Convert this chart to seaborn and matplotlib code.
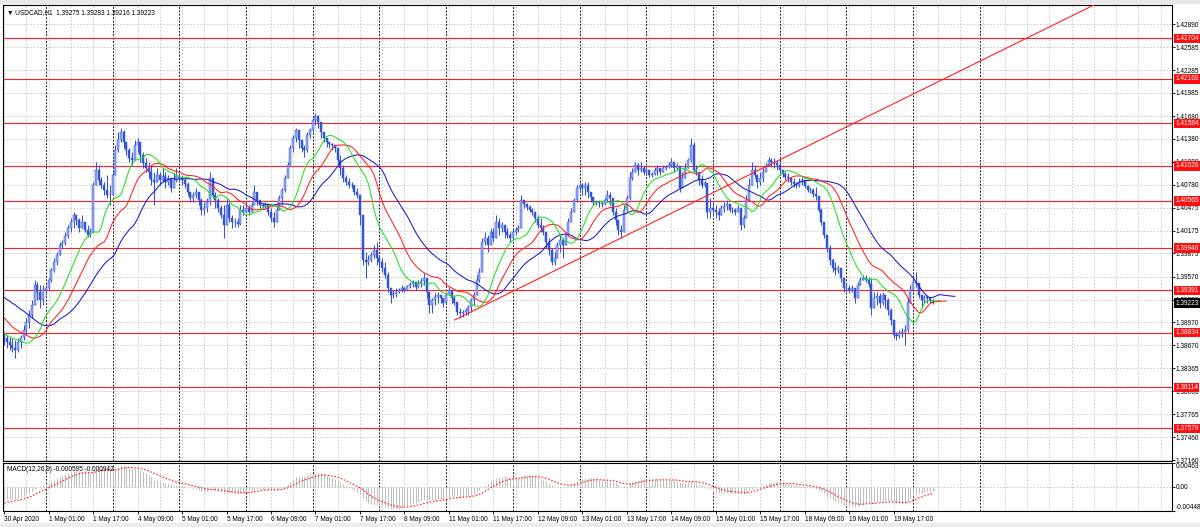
"""
USDCAD H1 chart (MetaTrader style): candles, Alligator, support/resistance levels, MACD.
"""

import matplotlib

matplotlib.use("Agg")

import matplotlib.pyplot as plt
import numpy as np
import pandas as pd
import seaborn as sns
from matplotlib.patches import Rectangle
from matplotlib.transforms import blended_transform_factory


# ---------------------------------------------------------------- data
# hourly bars, 30 Apr 2020 09:00 -> 20 May 2020 07:00 (weekends closed)
times = pd.date_range("2020-04-30 09:00", "2020-05-20 07:00", freq="h")
times = times[times.dayofweek < 5]
# the time scale continues (empty) to the right of the last bar
future_times = pd.date_range("2020-05-20 08:00", "2020-05-21 00:00", freq="h")

first_open = 1.3883

close = [
    1.3876, 1.3871, 1.3867, 1.3863, 1.3861, 1.3871, 1.3878, 1.3887, 1.3897, 1.3907, 1.3920, 1.3946,
    1.3937, 1.3926, 1.3939, 1.3942, 1.3953, 1.3966, 1.3976, 1.3985, 1.3999, 1.4001, 1.4010, 1.4021,
    1.4029, 1.4038, 1.4031, 1.4021, 1.4029, 1.4018, 1.4012, 1.4016, 1.4077, 1.4097, 1.4084, 1.4077,
    1.4071, 1.4064, 1.4064, 1.4091, 1.4123, 1.4137, 1.4147, 1.4134, 1.4123, 1.4113, 1.4110, 1.4130,
    1.4134, 1.4117, 1.4106, 1.4100, 1.4094, 1.4084, 1.4081, 1.4091, 1.4084, 1.4089, 1.4081, 1.4087,
    1.4073, 1.4084, 1.4089, 1.4087, 1.4084, 1.4079, 1.4068, 1.4060, 1.4064, 1.4068, 1.4058, 1.4045,
    1.4047, 1.4055, 1.4087, 1.4064, 1.4058, 1.4047, 1.4038, 1.4025, 1.4051, 1.4034, 1.4029, 1.4029,
    1.4026, 1.4045, 1.4042, 1.4047, 1.4042, 1.4051, 1.4068, 1.4058, 1.4051, 1.4050, 1.4052, 1.4042,
    1.4034, 1.4029, 1.4045, 1.4060, 1.4071, 1.4087, 1.4104, 1.4126, 1.4139, 1.4150, 1.4137, 1.4126,
    1.4123, 1.4143, 1.4150, 1.4163, 1.4168, 1.4160, 1.4147, 1.4139, 1.4134, 1.4131, 1.4130, 1.4126,
    1.4110, 1.4100, 1.4087, 1.4081, 1.4077, 1.4077, 1.4068, 1.4064, 1.4038, 1.3979, 1.3976, 1.3979,
    1.3985, 1.3992, 1.3981, 1.3976, 1.3968, 1.3959, 1.3942, 1.3933, 1.3934, 1.3937, 1.3939, 1.3942,
    1.3939, 1.3945, 1.3947, 1.3950, 1.3943, 1.3949, 1.3951, 1.3955, 1.3937, 1.3920, 1.3926, 1.3930,
    1.3933, 1.3929, 1.3923, 1.3933, 1.3939, 1.3929, 1.3923, 1.3910, 1.3909, 1.3910, 1.3913, 1.3917,
    1.3926, 1.3933, 1.3953, 1.3963, 1.4002, 1.4008, 1.3999, 1.4016, 1.4008, 1.4029, 1.4021, 1.4025,
    1.4016, 1.4012, 1.4008, 1.4016, 1.4018, 1.4021, 1.4058, 1.4052, 1.4048, 1.4045, 1.4042, 1.4034,
    1.4025, 1.4021, 1.4016, 1.4002, 1.3992, 1.3976, 1.3981, 1.3999, 1.4005, 1.3999, 1.4012, 1.4029,
    1.4042, 1.4058, 1.4073, 1.4077, 1.4073, 1.4077, 1.4068, 1.4062, 1.4055, 1.4055, 1.4054, 1.4052,
    1.4058, 1.4064, 1.4060, 1.4042, 1.4031, 1.4018, 1.4016, 1.4045, 1.4060, 1.4087, 1.4094, 1.4104,
    1.4097, 1.4100, 1.4094, 1.4097, 1.4091, 1.4092, 1.4097, 1.4100, 1.4094, 1.4100, 1.4101, 1.4104,
    1.4108, 1.4100, 1.4102, 1.4073, 1.4087, 1.4100, 1.4110, 1.4130, 1.4097, 1.4094, 1.4084, 1.4077,
    1.4080, 1.4042, 1.4047, 1.4045, 1.4042, 1.4038, 1.4047, 1.4050, 1.4052, 1.4045, 1.4045, 1.4042,
    1.4047, 1.4025, 1.4034, 1.4058, 1.4077, 1.4097, 1.4091, 1.4081, 1.4087, 1.4094, 1.4102, 1.4110,
    1.4108, 1.4106, 1.4104, 1.4097, 1.4092, 1.4088, 1.4087, 1.4081, 1.4079, 1.4077, 1.4081, 1.4084,
    1.4076, 1.4071, 1.4071, 1.4066, 1.4063, 1.4045, 1.4029, 1.4012, 1.3995, 1.3979, 1.3968, 1.3966,
    1.3968, 1.3955, 1.3942, 1.3942, 1.3939, 1.3942, 1.3929, 1.3946, 1.3953, 1.3955, 1.3953, 1.3947,
    1.3916, 1.3929, 1.3931, 1.3923, 1.3933, 1.3926, 1.3913, 1.3900, 1.3880, 1.3879, 1.3883, 1.3884,
    1.3887, 1.3923, 1.3939, 1.3950, 1.3949, 1.3933, 1.3926, 1.3930, 1.3929, 1.3926, 1.39223,
]

high = [
    1.3884, 1.3880, 1.3878, 1.3876, 1.3874, 1.3876, 1.3880, 1.3894, 1.3903, 1.3913, 1.3926, 1.3953,
    1.3950, 1.3946, 1.3946, 1.3946, 1.3955, 1.3968, 1.3981, 1.3989, 1.4002, 1.4005, 1.4016, 1.4025,
    1.4034, 1.4042, 1.4038, 1.4034, 1.4038, 1.4029, 1.4025, 1.4021, 1.4081, 1.4108, 1.4104, 1.4088,
    1.4081, 1.4091, 1.4077, 1.4094, 1.4130, 1.4147, 1.4152, 1.4150, 1.4130, 1.4126, 1.4121, 1.4137,
    1.4139, 1.4126, 1.4121, 1.4113, 1.4108, 1.4104, 1.4094, 1.4100, 1.4094, 1.4100, 1.4094, 1.4091,
    1.4087, 1.4094, 1.4100, 1.4091, 1.4091, 1.4087, 1.4081, 1.4068, 1.4068, 1.4073, 1.4068, 1.4060,
    1.4055, 1.4060, 1.4094, 1.4087, 1.4068, 1.4060, 1.4051, 1.4051, 1.4060, 1.4055, 1.4038, 1.4034,
    1.4034, 1.4051, 1.4051, 1.4055, 1.4051, 1.4055, 1.4077, 1.4068, 1.4055, 1.4054, 1.4055, 1.4051,
    1.4047, 1.4042, 1.4051, 1.4064, 1.4073, 1.4091, 1.4108, 1.4130, 1.4143, 1.4152, 1.4143, 1.4134,
    1.4130, 1.4147, 1.4152, 1.4165, 1.4172, 1.4169, 1.4160, 1.4147, 1.4139, 1.4134, 1.4133, 1.4130,
    1.4121, 1.4117, 1.4104, 1.4091, 1.4087, 1.4081, 1.4077, 1.4073, 1.4060, 1.4029, 1.3989, 1.3985,
    1.3989, 1.3999, 1.4002, 1.3985, 1.3981, 1.3976, 1.3963, 1.3942, 1.3939, 1.3942, 1.3942, 1.3946,
    1.3943, 1.3946, 1.3950, 1.3953, 1.3950, 1.3953, 1.3955, 1.3962, 1.3950, 1.3937, 1.3929, 1.3935,
    1.3937, 1.3933, 1.3929, 1.3937, 1.3943, 1.3939, 1.3933, 1.3923, 1.3916, 1.3913, 1.3916, 1.3920,
    1.3929, 1.3937, 1.3959, 1.3968, 1.4008, 1.4016, 1.4012, 1.4021, 1.4021, 1.4038, 1.4034, 1.4029,
    1.4025, 1.4021, 1.4016, 1.4021, 1.4022, 1.4025, 1.4064, 1.4058, 1.4054, 1.4051, 1.4047, 1.4042,
    1.4038, 1.4034, 1.4025, 1.4012, 1.4008, 1.3995, 1.3989, 1.4002, 1.4012, 1.4008, 1.4016, 1.4034,
    1.4047, 1.4060, 1.4077, 1.4081, 1.4080, 1.4081, 1.4081, 1.4068, 1.4060, 1.4058, 1.4058, 1.4055,
    1.4060, 1.4071, 1.4068, 1.4051, 1.4047, 1.4029, 1.4025, 1.4051, 1.4064, 1.4094, 1.4100, 1.4108,
    1.4106, 1.4108, 1.4104, 1.4101, 1.4097, 1.4094, 1.4101, 1.4104, 1.4100, 1.4104, 1.4104, 1.4108,
    1.4113, 1.4106, 1.4106, 1.4101, 1.4094, 1.4106, 1.4113, 1.4139, 1.4134, 1.4104, 1.4094, 1.4091,
    1.4084, 1.4077, 1.4060, 1.4055, 1.4051, 1.4047, 1.4051, 1.4055, 1.4058, 1.4051, 1.4048, 1.4047,
    1.4051, 1.4047, 1.4038, 1.4064, 1.4087, 1.4108, 1.4104, 1.4091, 1.4094, 1.4100, 1.4106, 1.4114,
    1.4113, 1.4113, 1.4110, 1.4108, 1.4097, 1.4094, 1.4093, 1.4088, 1.4087, 1.4081, 1.4087, 1.4088,
    1.4084, 1.4077, 1.4075, 1.4073, 1.4075, 1.4060, 1.4047, 1.4029, 1.4012, 1.3999, 1.3981, 1.3976,
    1.3972, 1.3968, 1.3955, 1.3949, 1.3946, 1.3946, 1.3942, 1.3950, 1.3956, 1.3959, 1.3959, 1.3956,
    1.3955, 1.3937, 1.3937, 1.3935, 1.3937, 1.3933, 1.3929, 1.3916, 1.3897, 1.3884, 1.3887, 1.3890,
    1.3894, 1.3929, 1.3946, 1.3959, 1.3963, 1.3942, 1.3933, 1.3933, 1.3933, 1.3930, 1.39283,
]

low = [
    1.3867, 1.3863, 1.3861, 1.3858, 1.3850, 1.3858, 1.3863, 1.3874, 1.3880, 1.3890, 1.3903, 1.3920,
    1.3926, 1.3916, 1.3920, 1.3933, 1.3939, 1.3950, 1.3963, 1.3972, 1.3985, 1.3995, 1.3999, 1.4008,
    1.4016, 1.4021, 1.4025, 1.4016, 1.4021, 1.4016, 1.4009, 1.4009, 1.4016, 1.4077, 1.4077, 1.4073,
    1.4064, 1.4060, 1.4051, 1.4077, 1.4094, 1.4121, 1.4134, 1.4126, 1.4117, 1.4108, 1.4104, 1.4117,
    1.4121, 1.4108, 1.4100, 1.4094, 1.4087, 1.4077, 1.4051, 1.4081, 1.4077, 1.4081, 1.4073, 1.4077,
    1.4068, 1.4077, 1.4081, 1.4081, 1.4077, 1.4073, 1.4064, 1.4055, 1.4055, 1.4060, 1.4051, 1.4038,
    1.4038, 1.4042, 1.4051, 1.4060, 1.4047, 1.4042, 1.4034, 1.4008, 1.4038, 1.4029, 1.4021, 1.4022,
    1.4022, 1.4025, 1.4038, 1.4042, 1.4038, 1.4042, 1.4051, 1.4051, 1.4047, 1.4047, 1.4047, 1.4038,
    1.4029, 1.4022, 1.4034, 1.4047, 1.4051, 1.4068, 1.4087, 1.4104, 1.4121, 1.4134, 1.4126, 1.4121,
    1.4114, 1.4121, 1.4139, 1.4147, 1.4156, 1.4152, 1.4139, 1.4134, 1.4127, 1.4126, 1.4123, 1.4121,
    1.4104, 1.4091, 1.4081, 1.4077, 1.4073, 1.4073, 1.4064, 1.4060, 1.4025, 1.3972, 1.3955, 1.3972,
    1.3976, 1.3981, 1.3972, 1.3968, 1.3963, 1.3955, 1.3937, 1.3923, 1.3929, 1.3930, 1.3935, 1.3937,
    1.3937, 1.3939, 1.3942, 1.3943, 1.3939, 1.3942, 1.3943, 1.3946, 1.3929, 1.3909, 1.3909, 1.3920,
    1.3923, 1.3922, 1.3917, 1.3923, 1.3933, 1.3923, 1.3920, 1.3907, 1.3903, 1.3904, 1.3907, 1.3907,
    1.3910, 1.3920, 1.3937, 1.3950, 1.3963, 1.3999, 1.3989, 1.3999, 1.4002, 1.4016, 1.4012, 1.4016,
    1.4008, 1.4008, 1.4002, 1.4009, 1.4012, 1.4016, 1.4038, 1.4047, 1.4045, 1.4042, 1.4038, 1.4029,
    1.4021, 1.4016, 1.4012, 1.3995, 1.3985, 1.3972, 1.3972, 1.3985, 1.3989, 1.3981, 1.3999, 1.4016,
    1.4029, 1.4047, 1.4055, 1.4068, 1.4064, 1.4064, 1.4060, 1.4055, 1.4051, 1.4051, 1.4048, 1.4048,
    1.4051, 1.4055, 1.4051, 1.4038, 1.4025, 1.4012, 1.4008, 1.4025, 1.4042, 1.4058, 1.4084, 1.4094,
    1.4091, 1.4094, 1.4091, 1.4093, 1.4088, 1.4088, 1.4091, 1.4091, 1.4091, 1.4094, 1.4097, 1.4100,
    1.4101, 1.4094, 1.4097, 1.4068, 1.4077, 1.4087, 1.4101, 1.4108, 1.4094, 1.4091, 1.4077, 1.4073,
    1.4075, 1.4034, 1.4034, 1.4038, 1.4034, 1.4031, 1.4042, 1.4042, 1.4045, 1.4042, 1.4041, 1.4038,
    1.4042, 1.4018, 1.4021, 1.4034, 1.4058, 1.4077, 1.4087, 1.4073, 1.4077, 1.4081, 1.4094, 1.4102,
    1.4101, 1.4100, 1.4097, 1.4093, 1.4088, 1.4084, 1.4081, 1.4077, 1.4075, 1.4073, 1.4075, 1.4077,
    1.4073, 1.4068, 1.4067, 1.4062, 1.4058, 1.4042, 1.4025, 1.4008, 1.3989, 1.3972, 1.3963, 1.3959,
    1.3962, 1.3950, 1.3937, 1.3937, 1.3935, 1.3937, 1.3923, 1.3929, 1.3946, 1.3953, 1.3950, 1.3943,
    1.3907, 1.3916, 1.3920, 1.3916, 1.3920, 1.3916, 1.3907, 1.3894, 1.3876, 1.3874, 1.3876, 1.3878,
    1.3867, 1.3884, 1.3923, 1.3937, 1.3943, 1.3929, 1.3916, 1.3922, 1.3923, 1.3922, 1.39216,
]

# Alligator lines as they show at the left edge (values before the first bar)
jaw_lead = [1.3930, 1.3927, 1.3925, 1.3922, 1.3920, 1.3917, 1.3914, 1.3912]
teeth_lead = [1.3903, 1.3899, 1.3895, 1.3891, 1.3888]
lips_lead = [1.3883, 1.3880, 1.3878]
jaw_seed, teeth_seed, lips_seed = 1.3909, 1.3886, 1.3876

# MACD state at the first bar
ema12_seed, ema26_seed, signal_seed = 1.3890, 1.3912, -0.0030

levels = [1.42704, 1.42169, 1.41584, 1.41026, 1.40565,
          1.39946, 1.39391, 1.38834, 1.38114, 1.37579]
current_price = 1.39223

# trend line anchors (bar index, price)
trend_bars = [162, 222]
trend_prices = [1.3900, 1.4008]

price_ticks = [1.42890, 1.42585, 1.42285, 1.41985, 1.41680, 1.41380, 1.41080,
               1.40780, 1.40475, 1.40175, 1.39875, 1.39570, 1.39270, 1.38970,
               1.38670, 1.38365, 1.38065, 1.37765, 1.37460, 1.37160]
macd_ticks = [-0.00448, 0.0, 0.00463]
macd_tick_labels = ["-0.00448", "0.00", "0.00463"]

title_text = "\u25bc USDCAD,H1  1.39275 1.39283 1.39216 1.39223"
macd_text = "MACD(12,26,9) -0.000595 -0.000942"


def smma(values, period, seed):
    """Smoothed moving average started from a known value."""
    out = [seed]
    for v in values[1:]:
        out.append((out[-1] * (period - 1) + v) / period)
    return np.array(out)


def ema(values, period, seed):
    """Exponential moving average started from a known value."""
    k = 2 / (period + 1)
    out = [seed]
    for v in values[1:]:
        out.append(out[-1] + k * (v - out[-1]))
    return np.array(out)


def main() -> None:
    n = len(times)
    for name, arr in (("close", close), ("high", high), ("low", low)):
        if len(arr) != n:
            raise ValueError(f"{name}: {len(arr)} values for {n} bars")

    c = np.array(close)
    o = np.r_[first_open, c[:-1]]
    h = np.maximum.reduce([np.array(high), o, c])
    lo = np.minimum.reduce([np.array(low), o, c])
    x = np.arange(n)

    median = (h + lo) / 2
    jaw = np.r_[jaw_lead, smma(median, 13, jaw_seed)]
    teeth = np.r_[teeth_lead, smma(median, 8, teeth_seed)]
    lips = np.r_[lips_lead, smma(median, 5, lips_seed)]

    macd_main = ema(c, 12, ema12_seed) - ema(c, 26, ema26_seed)
    macd_signal = ema(macd_main, 9, signal_seed)

    all_times = times.append(future_times)
    day_starts = np.flatnonzero(all_times.hour == 0)
    label_bars = np.arange(0, n, 16)
    labels = ["30 Apr 2020"] + [f"{t.day} {t:%b %H:%M}" for t in times[label_bars[1:]]]

    sns.set_theme(style="white")
    plt.rcParams["font.family"] = ["Liberation Sans", "DejaVu Sans"]
    fs = 4.7

    W, H = 1200, 527
    fig = plt.figure(figsize=(W / 100, H / 100), dpi=100, facecolor="white")
    ax = fig.add_axes([3 / W, 1 - 461 / H, 1169 / W, 456 / H])
    ax_m = fig.add_axes([3 / W, 1 - 511 / H, 1169 / W, 48 / H])

    xmin, xmax = -0.4, 420.1
    for a in (ax, ax_m):
        a.set_xlim(xmin, xmax)
        a.set_facecolor("white")
        for s in a.spines.values():
            s.set_color("#000000")
            s.set_linewidth(0.8)
        a.vlines(np.arange(0, xmax, 8), 0, 1, transform=a.get_xaxis_transform(),
                 colors="#c4c4c4", linewidth=0.6, linestyles=(0, (2, 2)), zorder=0)
        a.vlines(day_starts, 0, 1, transform=a.get_xaxis_transform(),
                 colors="#202020", linewidth=0.7, linestyles=(0, (2, 1.5)), zorder=0.5)

    # ---------------------------------------------------------- main chart
    ax.set_ylim(1.37148, 1.43140)
    for p in price_ticks:
        ax.axhline(p, color="#c4c4c4", linewidth=0.6, linestyle=(0, (2, 2)), zorder=0)
    for lv in levels:
        ax.axhline(lv, color="#ff2020", linewidth=0.8, zorder=1)

    up = c >= o
    edge = "#3354d4"
    ax.vlines(x, lo, h, colors=edge, linewidth=0.75, zorder=2)
    ax.bar(x, np.abs(c - o) + 0.00002, bottom=np.minimum(o, c), width=0.72,
           color=np.where(up, "#9aaef0", edge), edgecolor=edge, linewidth=0.35, zorder=2.1)

    sns.lineplot(x=np.arange(len(jaw)), y=jaw, ax=ax, color="#1a1acc", linewidth=0.75,
                 estimator=None, zorder=3)
    sns.lineplot(x=np.arange(len(teeth)), y=teeth, ax=ax, color="#ff2020", linewidth=0.75,
                 estimator=None, zorder=3)
    sns.lineplot(x=np.arange(len(lips)), y=lips, ax=ax, color="#22dd22", linewidth=0.75,
                 estimator=None, zorder=3)

    slope = (trend_prices[1] - trend_prices[0]) / (trend_bars[1] - trend_bars[0])
    ax.plot([trend_bars[0], xmax], [trend_prices[0], trend_prices[0] + slope * (xmax - trend_bars[0])],
            color="#ff2020", linewidth=0.8, zorder=3)

    ax.yaxis.tick_right()
    ax.set_yticks(price_ticks)
    ax.set_yticklabels([f"{p:.5f}" for p in price_ticks])
    ax.tick_params(axis="y", direction="out", length=2, width=0.6, pad=0.8,
                   labelsize=fs, colors="black", right=True, left=False)
    ax.tick_params(axis="x", length=0, labelbottom=False)
    ax.set_xlabel("")
    ax.set_ylabel("")

    tr = blended_transform_factory(ax.transAxes, ax.transData)
    for lv in levels:
        ax.text(1.0028, lv, f"{lv:.5f}", transform=tr, ha="left", va="center",
                fontsize=fs, color="white", clip_on=False, zorder=10,
                bbox=dict(boxstyle="square,pad=0.18", fc="#ff1010", ec="none"))
    ax.text(1.0028, current_price, f"{current_price:.5f}", transform=tr, ha="left",
            va="center", fontsize=fs, color="white", clip_on=False, zorder=10,
            bbox=dict(boxstyle="square,pad=0.18", fc="black", ec="none"))

    ax.text(0.003, 0.992, title_text, transform=ax.transAxes, ha="left", va="top",
            fontsize=fs, color="black", zorder=10)

    # ---------------------------------------------------------- MACD panel
    ax_m.set_ylim(-0.00448, 0.00463)
    ax_m.axhline(0, color="#c4c4c4", linewidth=0.6, linestyle=(0, (2, 2)), zorder=0)
    ax_m.vlines(x, 0, macd_main, colors="#bdbdbd", linewidth=0.7, zorder=2)
    sns.lineplot(x=x, y=macd_signal, ax=ax_m, color="#ff2020", linewidth=0.8,
                 linestyle=(0, (1.5, 1.5)), estimator=None, zorder=3)

    ax_m.yaxis.tick_right()
    ax_m.set_yticks(macd_ticks)
    ax_m.set_yticklabels(macd_tick_labels)
    for lbl, va in zip(ax_m.get_yticklabels(), ["bottom", "center", "top"]):
        lbl.set_va(va)
    ax_m.tick_params(axis="y", direction="out", length=2, width=0.6, pad=0.8,
                     labelsize=fs, colors="black", right=True, left=False)

    ax_m.set_xticks(label_bars)
    ax_m.set_xticklabels(labels, ha="left")
    ax_m.tick_params(axis="x", direction="out", length=2.5, width=0.6, pad=1.0,
                     labelsize=fs, colors="black", bottom=True)
    ax_m.set_xlabel("")
    ax_m.set_ylabel("")
    ax_m.text(0.003, 0.93, macd_text, transform=ax_m.transAxes, ha="left", va="top",
              fontsize=fs, color="black", zorder=10)

    # window frame strips
    fig.add_artist(Rectangle((0, 1 - 3 / H), 1, 3 / H, transform=fig.transFigure,
                             color="#e8e8e8", zorder=0))
    fig.add_artist(Rectangle((0, 0), 1, 4 / H, transform=fig.transFigure,
                             color="#ececec", zorder=0))

    fig.savefig("out.png", dpi=100, facecolor=fig.get_facecolor())
    plt.close(fig)


if __name__ == "__main__":
    main()
